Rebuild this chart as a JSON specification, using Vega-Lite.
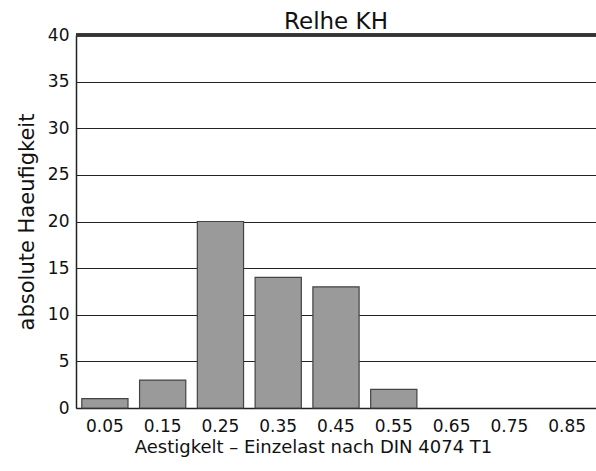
{
  "$schema": "https://vega.github.io/schema/vega-lite/v6.json",
  "width": 520,
  "height": 373,
  "autosize": {"type": "none"},
  "padding": {"left": 76, "top": 35, "right": 0, "bottom": 63},
  "background": "white",
  "title": {"text": "Relhe KH", "font": "DejaVu Sans", "fontSize": 23, "fontWeight": "normal", "color": "#111", "offset": -8, "anchor": "middle"},
  "data": {"values": [
    {"klasse": "0.05", "n": 1},
    {"klasse": "0.15", "n": 3},
    {"klasse": "0.25", "n": 20},
    {"klasse": "0.35", "n": 14},
    {"klasse": "0.45", "n": 13},
    {"klasse": "0.55", "n": 2},
    {"klasse": "0.65", "n": 0},
    {"klasse": "0.75", "n": 0},
    {"klasse": "0.85", "n": 0}
  ]},
  "config": {"view": {"stroke": null}},
  "encoding": {
    "x": {"field": "klasse", "type": "ordinal", "sort": null,
      "scale": {"domain": ["0.05","0.15","0.25","0.35","0.45","0.55","0.65","0.75","0.85"], "paddingInner": 0.2, "paddingOuter": 0.1},
      "axis": {"title": "Aestigkelt  –  Einzelast nach DIN 4074 T1", "labelAngle": 0, "ticks": false, "domainColor": "#222", "domainWidth": 1.5,
        "labelFont": "DejaVu Sans", "labelFontSize": 17, "labelColor": "#111", "labelPadding": 10,
        "titleFont": "DejaVu Sans", "titleFontSize": 18, "titleFontWeight": "normal", "titleColor": "#111", "titlePadding": 4, "titleX": 237, "titleAlign": "center"}},
    "y": {"field": "n", "type": "quantitative",
      "scale": {"domain": [0, 40]},
      "axis": {"title": "absolute Haeufigkeit", "values": [0,5,10,15,20,25,30,35,40], "ticks": false, "grid": true, "gridColor": "#222", "gridWidth": 1, "domainColor": "#222", "domainWidth": 1.5,
        "labelFont": "DejaVu Sans", "labelFontSize": 17, "labelColor": "#111", "labelPadding": 7,
        "titleFont": "DejaVu Sans", "titleFontSize": 21, "titleFontWeight": "normal", "titleColor": "#111", "titlePadding": 10}}
  },
  "layer": [
    {"transform": [{"filter": "datum.n > 0"}],
     "mark": {"type": "bar", "fill": "#9a9a9a", "stroke": "#444", "strokeWidth": 1.2}},
    {"mark": {"type": "rule", "color": "#333", "strokeWidth": 2.5},
     "encoding": {"y": {"datum": 40}, "x": null}}
  ]
}
